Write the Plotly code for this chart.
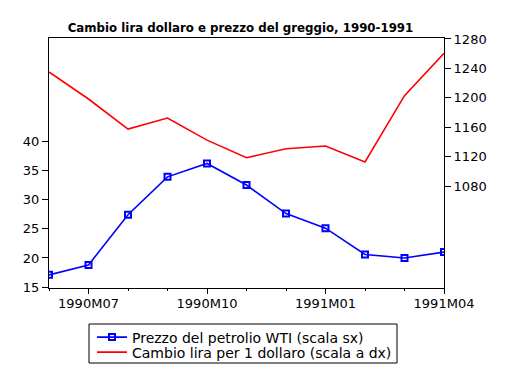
import plotly.graph_objects as go

months = ["1990M06", "1990M07", "1990M08", "1990M09", "1990M10", "1990M11",
          "1990M12", "1991M01", "1991M02", "1991M03", "1991M04"]
wti = [17.1, 18.8, 27.4, 33.9, 36.2, 32.5, 27.6, 25.1, 20.6, 20.0, 21.0]
lira = [1235.1, 1198.4, 1157.6, 1172.6, 1142.5, 1118.6, 1130.9, 1134.5, 1112.8, 1202.9, 1260.5]
tick_months = ["1990M07", "1990M10", "1991M01", "1991M04"]
left_ticks = [15, 20, 25, 30, 35, 40]
right_ticks = [1080, 1120, 1160, 1200, 1240, 1280]

xi = list(range(len(months)))
tickvals = [months.index(m) for m in tick_months]

FONT = "DejaVu Sans"
OFF = 8  # default page body margin
W, H = 512 - OFF, 384 - OFF
L, T = 49 - OFF, 38 - OFF
PW, PH = 395, 250
R, B = W - L - PW, H - T - PH


def px(x):
    return (x - OFF - L) / PW


def py(y):
    return (T + PH - (y - OFF)) / PH


def cx(x):
    return (x - OFF) / W


def cy(y):
    return 1 - (y - OFF) / H


fig = go.Figure()
fig.add_trace(go.Scatter(
    x=xi, y=wti, name="Prezzo del petrolio WTI (scala sx)",
    mode="lines+markers",
    line=dict(color="#0000FF", width=1.6),
    marker=dict(symbol="square-open", size=6, color="#0000FF",
                line=dict(width=2, color="#0000FF")),
    yaxis="y", legend="legend"))
fig.add_trace(go.Scatter(
    x=xi, y=lira, name="Cambio lira per 1 dollaro (scala a dx)",
    mode="lines",
    line=dict(color="#FF0000", width=1.6),
    yaxis="y2", legend="legend2"))

leg_common = dict(xanchor="left", yanchor="middle", xref="container",
                  yref="container", borderwidth=0, bgcolor="rgba(0,0,0,0)",
                  font=dict(family=FONT, size=14, color="black"))

fig.update_layout(
    width=W, height=H,
    margin=dict(l=L, r=R, t=T, b=B, autoexpand=False),
    paper_bgcolor="white", plot_bgcolor="white",
    font=dict(family=FONT, size=13, color="black"),
    title=dict(text="<b>Cambio lira dollaro e prezzo del greggio, 1990-1991</b>",
               x=cx(240.5), xref="container", xanchor="center",
               y=cy(28), yref="container", yanchor="middle",
               font=dict(family=FONT, size=11.8, color="black")),
    showlegend=True,
    legend=dict(x=cx(92), y=cy(337.5), **leg_common),
    legend2=dict(x=cx(92), y=cy(352.5), **leg_common),
    shapes=[dict(type="rect", xref="paper", yref="paper",
                 x0=px(89), x1=px(397), y0=py(363), y1=py(324),
                 line=dict(color="black", width=1), fillcolor="rgba(0,0,0,0)",
                 layer="above")],
    xaxis=dict(range=[0, len(months) - 1], tickvals=tickvals,
               ticktext=tick_months, showgrid=False, zeroline=False,
               showline=True, linecolor="black", linewidth=1, mirror=True,
               ticks="outside", ticklen=5, tickcolor="black", automargin=False,
               ticklabelstandoff=-2,
               minor=dict(ticks="outside", ticklen=2, dtick=1, tick0=0,
                          tickcolor="black", showgrid=False),
               tickfont=dict(family=FONT, size=13)),
    yaxis=dict(range=[14.85, 57.7], tickvals=left_ticks, showgrid=False,
               zeroline=False, showline=True, linecolor="black", linewidth=1,
               ticks="outside", ticklen=6, tickcolor="black", automargin=False,
               tickfont=dict(family=FONT, size=13)),
    yaxis2=dict(range=[941.6, 1281.3], tickvals=right_ticks, overlaying="y",
                side="right", showgrid=False, zeroline=False, showline=True,
                linecolor="black", linewidth=1, ticks="outside", ticklen=6,
                tickcolor="black", automargin=False,
                tickfont=dict(family=FONT, size=13)),
)

fig.write_html("out.html")
